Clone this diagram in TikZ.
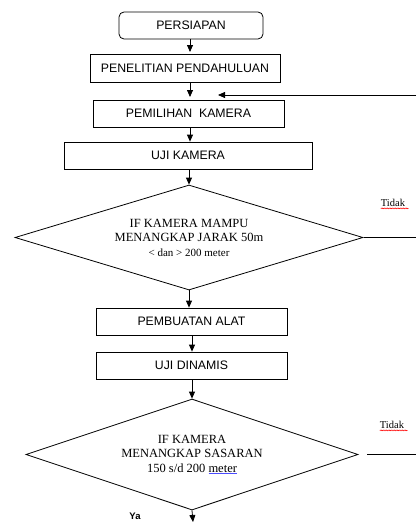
\documentclass[tikz,border=0pt]{standalone}
\usepackage{fontspec}
\setmainfont{Liberation Serif}
\setsansfont{Liberation Sans}
\usetikzlibrary{shapes.geometric,arrows.meta,decorations.pathmorphing}
\begin{document}
\begin{tikzpicture}[x=1pt,y=-1pt]
\tikzstyle{kotak} = [draw, line width=0.8pt, font=\sffamily\fontsize{12.3}{14}\selectfont, inner sep=0pt]
\tikzstyle{keputusan} = [draw, line width=0.8pt, shape=diamond, aspect=3.3, inner sep=0pt, font=\fontsize{12.5}{14.5}\selectfont, align=center]
\tikzstyle{panah} = [line width=0.8pt, -{Triangle[width=6pt,length=7pt]}]
\tikzstyle{garis} = [line width=0.8pt]
\tikzstyle{ket} = [font=\fontsize{10.5}{12}\selectfont, inner sep=0pt]

\useasboundingbox (0,0) rectangle (416,522);

\node[kotak, rounded corners=5pt, minimum width=144pt, minimum height=27pt] (persiapan) at (191,25.5) {PERSIAPAN};
\node[kotak, minimum width=190pt, minimum height=28pt] (penelitian) at (185,68) {PENELITIAN PENDAHULUAN};
\node[kotak, minimum width=191pt, minimum height=27pt] (pemilihan) at (188.5,113.5) {PEMILIHAN\ \ KAMERA};
\node[kotak, minimum width=248pt, minimum height=27pt] (ujikamera) at (188,155.5) {UJI KAMERA};

\node[keputusan, minimum width=348pt, minimum height=105pt] (cek1) at (189,237.5) {IF KAMERA MAMPU\\MENANGKAP JARAK 50m\\{\fontsize{11}{13}\selectfont < dan > 200 meter}};

\node[kotak, minimum width=191pt, minimum height=27pt] (pembuatan) at (191.5,321.5) {PEMBUATAN ALAT};
\node[kotak, minimum width=191pt, minimum height=27pt] (ujidinamis) at (191.5,365.5) {UJI DINAMIS};

\node[keputusan, minimum width=332pt, minimum height=111pt] (cek2) at (192,454.5) {IF KAMERA\\MENANGKAP SASARAN\\150 s/d 200 {\color{blue!70}\underline{\color{black}meter}}};

% alur utama
\draw[panah] (persiapan.south -| 190,0) -- (190,52);
\draw[panah] (penelitian.south -| 190,0) -- (190,97);
\draw[panah] (pemilihan.south -| 190,0) -- (ujikamera.north -| 190,0);
\draw[panah] (ujikamera.south -| 189,0) -- (cek1.north);
\draw[panah] (cek1.south) -- (pembuatan.north -| cek1.south);
\draw[panah] (pembuatan.south -| 192,0) -- (ujidinamis.north -| 192,0);
\draw[panah] (ujidinamis.south -| cek2.north) -- (cek2.north);

% umpan balik
\coordinate (balik) at (416,95);
\coordinate (balikujung) at (218,95);
\draw[panah] (balik) -- (balikujung);

\coordinate (tidak1) at (416,237.5);
\draw[garis] (cek1.east) ++(1,0) -- (tidak1);
\node[ket] (lbltidak1) at (393,203) {Tidak};
\draw[red, line width=0.4pt, decorate, decoration={zigzag, segment length=1.6pt, amplitude=0.5pt}] (lbltidak1.south west) ++(0,1.5) -- ++(28,0);

\coordinate (tidak2) at (416,454.5);
\draw[garis] (cek2.east) ++(9,0) -- (tidak2);
\node[ket] (lbltidak2) at (392,425) {Tidak};
\draw[red, line width=0.4pt, decorate, decoration={zigzag, segment length=1.6pt, amplitude=0.5pt}] (lbltidak2.south west) ++(0,1.5) -- ++(28,0);

\coordinate (lanjut) at (193,522);
\draw[panah] (cek2.south) -- (lanjut);
\node[ket, font=\sffamily\bfseries\fontsize{9.5}{11}\selectfont] (ya) at (135,516.5) {Ya};

\end{tikzpicture}
\end{document}
